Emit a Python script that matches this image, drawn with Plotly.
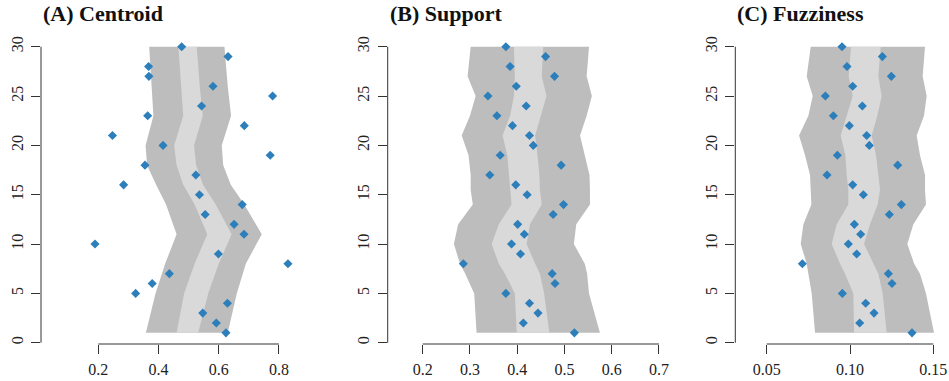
import plotly.graph_objects as go

W, H = 949, 381

y_levels = list(range(1, 31))

# ---- Panel A: Centroid ----
centroid = [0.624, 0.592, 0.547, 0.629, 0.324, 0.379, 0.436, 0.830, 0.599, 0.189,
            0.684, 0.651, 0.555, 0.678, 0.536, 0.284, 0.524, 0.355, 0.771, 0.415,
            0.247, 0.685, 0.364, 0.543, 0.779, 0.581, 0.368, 0.367, 0.631, 0.477]
band_y_a = [1, 5, 8, 11, 14, 16, 18, 20, 23, 26, 30]
a_outer_lo = [0.358, 0.390, 0.422, 0.460, 0.425, 0.392, 0.362, 0.357, 0.383, 0.377, 0.369]
a_inner_lo = [0.460, 0.485, 0.520, 0.562, 0.520, 0.482, 0.460, 0.452, 0.482, 0.475, 0.466]
a_inner_hi = [0.532, 0.565, 0.600, 0.643, 0.590, 0.548, 0.525, 0.518, 0.547, 0.537, 0.527]
a_outer_hi = [0.630, 0.660, 0.690, 0.743, 0.685, 0.640, 0.615, 0.610, 0.641, 0.630, 0.619]

# ---- Panel B: Support ----
support = [0.521, 0.413, 0.444, 0.426, 0.376, 0.480, 0.474, 0.286, 0.407, 0.388,
           0.415, 0.401, 0.476, 0.498, 0.421, 0.397, 0.342, 0.493, 0.364, 0.434,
           0.426, 0.390, 0.357, 0.419, 0.338, 0.398, 0.479, 0.385, 0.460, 0.376]
band_y_bc = [1, 5, 7, 8, 10, 12, 14, 15.5, 17, 19, 21, 23, 25, 27, 30]
b_outer_lo = [0.314, 0.309, 0.290, 0.279, 0.266, 0.275, 0.306, 0.3015, 0.3015, 0.297, 0.2825, 0.300, 0.312, 0.295, 0.3015]
b_inner_lo = [0.399, 0.395, 0.374, 0.361, 0.346, 0.361, 0.388, 0.385, 0.383, 0.379, 0.369, 0.385, 0.393, 0.395, 0.393]
b_inner_hi = [0.468, 0.457, 0.448, 0.438, 0.420, 0.427, 0.452, 0.448, 0.447, 0.443, 0.438, 0.450, 0.462, 0.452, 0.455]
b_outer_hi = [0.575, 0.552, 0.548, 0.543, 0.520, 0.525, 0.554, 0.554, 0.553, 0.543, 0.533, 0.547, 0.558, 0.547, 0.552]

# ---- Panel C: Fuzziness ----
fuzziness = [0.1372, 0.1058, 0.1144, 0.1094, 0.0954, 0.1252, 0.1230, 0.0714, 0.1040, 0.0990,
             0.1064, 0.1026, 0.1236, 0.1308, 0.1080, 0.1016, 0.0862, 0.1286, 0.0924, 0.1116,
             0.1100, 0.0996, 0.0900, 0.1074, 0.0852, 0.1016, 0.1248, 0.0982, 0.1194, 0.0952]
c_outer_lo = [0.0790, 0.0770, 0.0750, 0.0740, 0.0704, 0.0720, 0.0768, 0.0764, 0.0760, 0.0730, 0.0694, 0.0750, 0.0776, 0.0740, 0.0764]
c_inner_lo = [0.1024, 0.1020, 0.0970, 0.0940, 0.0890, 0.0920, 0.0990, 0.0990, 0.0980, 0.0972, 0.0944, 0.0980, 0.1016, 0.0992, 0.1006]
c_inner_hi = [0.1220, 0.1196, 0.1170, 0.1140, 0.1084, 0.1120, 0.1166, 0.1180, 0.1170, 0.1156, 0.1130, 0.1164, 0.1190, 0.1170, 0.1184]
c_outer_hi = [0.1504, 0.1456, 0.1420, 0.1385, 0.1344, 0.1380, 0.1456, 0.1450, 0.1450, 0.1420, 0.1400, 0.1444, 0.1460, 0.1436, 0.1450]

titles = ["(A) Centroid", "(B) Support", "(C) Fuzziness"]
x_ticks = [[0.2, 0.4, 0.6, 0.8], [0.2, 0.3, 0.4, 0.5, 0.6, 0.7], [0.05, 0.10, 0.15]]
x_ticktext = [["0.2", "0.4", "0.6", "0.8"], ["0.2", "0.3", "0.4", "0.5", "0.6", "0.7"], ["0.05", "0.10", "0.15"]]
y_ticks = [0, 5, 10, 15, 20, 25, 30]

DARK = "#bcbdbc"
LIGHT = "#d9d9d9"
PT = "#2c7fba"
AX = "#333333"
FONT = "Liberation Serif"

# layout geometry (page pixels)
x_left_px = [41, 387.7, 735.3]
x_right_px = [300, 665, 947]
x_ranges = [[0.0096, 0.870], [0.1259, 0.7128], [0.03115, 0.1582]]
y_range = [-0.13, 31.16]
bottom_px, top_px = 344, 35.3
y_dom = [(H - bottom_px) / H, (H - top_px) / H]

panels = [
    (centroid, band_y_a, a_outer_lo, a_inner_lo, a_inner_hi, a_outer_hi),
    (support, band_y_bc, b_outer_lo, b_inner_lo, b_inner_hi, b_outer_hi),
    (fuzziness, band_y_bc, c_outer_lo, c_inner_lo, c_inner_hi, c_outer_hi),
]

fig = go.Figure()
shapes = []
annotations = []
for i, (pts, by, olo, ilo, ihi, ohi) in enumerate(panels):
    xa = "x" if i == 0 else f"x{i+1}"
    ya = "y" if i == 0 else f"y{i+1}"
    fig.add_trace(go.Scatter(x=olo + ohi[::-1], y=by + by[::-1], fill="toself",
                             fillcolor=DARK, mode="lines", line=dict(width=0, color=DARK),
                             hoverinfo="skip", showlegend=False, xaxis=xa, yaxis=ya))
    fig.add_trace(go.Scatter(x=ilo + ihi[::-1], y=by + by[::-1], fill="toself",
                             fillcolor=LIGHT, mode="lines", line=dict(width=0, color=LIGHT),
                             hoverinfo="skip", showlegend=False, xaxis=xa, yaxis=ya))
    fig.add_trace(go.Scatter(x=pts, y=y_levels, mode="markers",
                             marker=dict(symbol="diamond", size=7, color=PT, line=dict(width=0)),
                             showlegend=False, xaxis=xa, yaxis=ya))
    dom = [x_left_px[i] / W, x_right_px[i] / W]
    key = "" if i == 0 else str(i + 1)
    fig.update_layout(**{
        f"xaxis{key}": dict(domain=dom, range=x_ranges[i], anchor=ya, showgrid=False,
                            zeroline=False, showline=False, ticks="outside", ticklen=9,
                            tickwidth=1, tickcolor=AX, tickvals=x_ticks[i], ticktext=x_ticktext[i],
                            tickfont=dict(family=FONT, size=16, color="#222"),
                            ticklabelstandoff=2, automargin=False),
        f"yaxis{key}": dict(domain=y_dom, range=y_range, anchor=xa, showgrid=False,
                            zeroline=False, showline=False, ticks="outside", ticklen=9,
                            tickwidth=1, tickcolor=AX, tickvals=y_ticks, tickangle=-90,
                            tickfont=dict(family=FONT, size=16, color="#222"),
                            ticklabelstandoff=2, automargin=False),
    })
    shapes.append(dict(type="line", xref=xa, yref=f"{ya} domain",
                       x0=x_ticks[i][0], x1=x_ticks[i][-1], y0=0, y1=0,
                       line=dict(color=AX, width=1)))
    shapes.append(dict(type="line", xref=f"{xa} domain", yref=ya,
                       x0=0, x1=0, y0=y_ticks[0], y1=y_ticks[-1],
                       line=dict(color=AX, width=1)))
    annotations.append(dict(text=f"<b>{titles[i]}</b>", xref=f"{xa} domain", yref="paper",
                            x=0, y=(H - 14) / H, xanchor="left", yanchor="middle",
                            showarrow=False, font=dict(family=FONT, size=22, color="#111")))

fig.update_layout(width=W, height=H, margin=dict(l=0, r=0, t=0, b=0),
                  paper_bgcolor="white", plot_bgcolor="white",
                  shapes=shapes, annotations=annotations)
fig.write_html("out.html",
               config={"displayModeBar": False, "staticPlot": True},
               post_script="document.body.style.margin='0';document.body.style.overflow='hidden';")
